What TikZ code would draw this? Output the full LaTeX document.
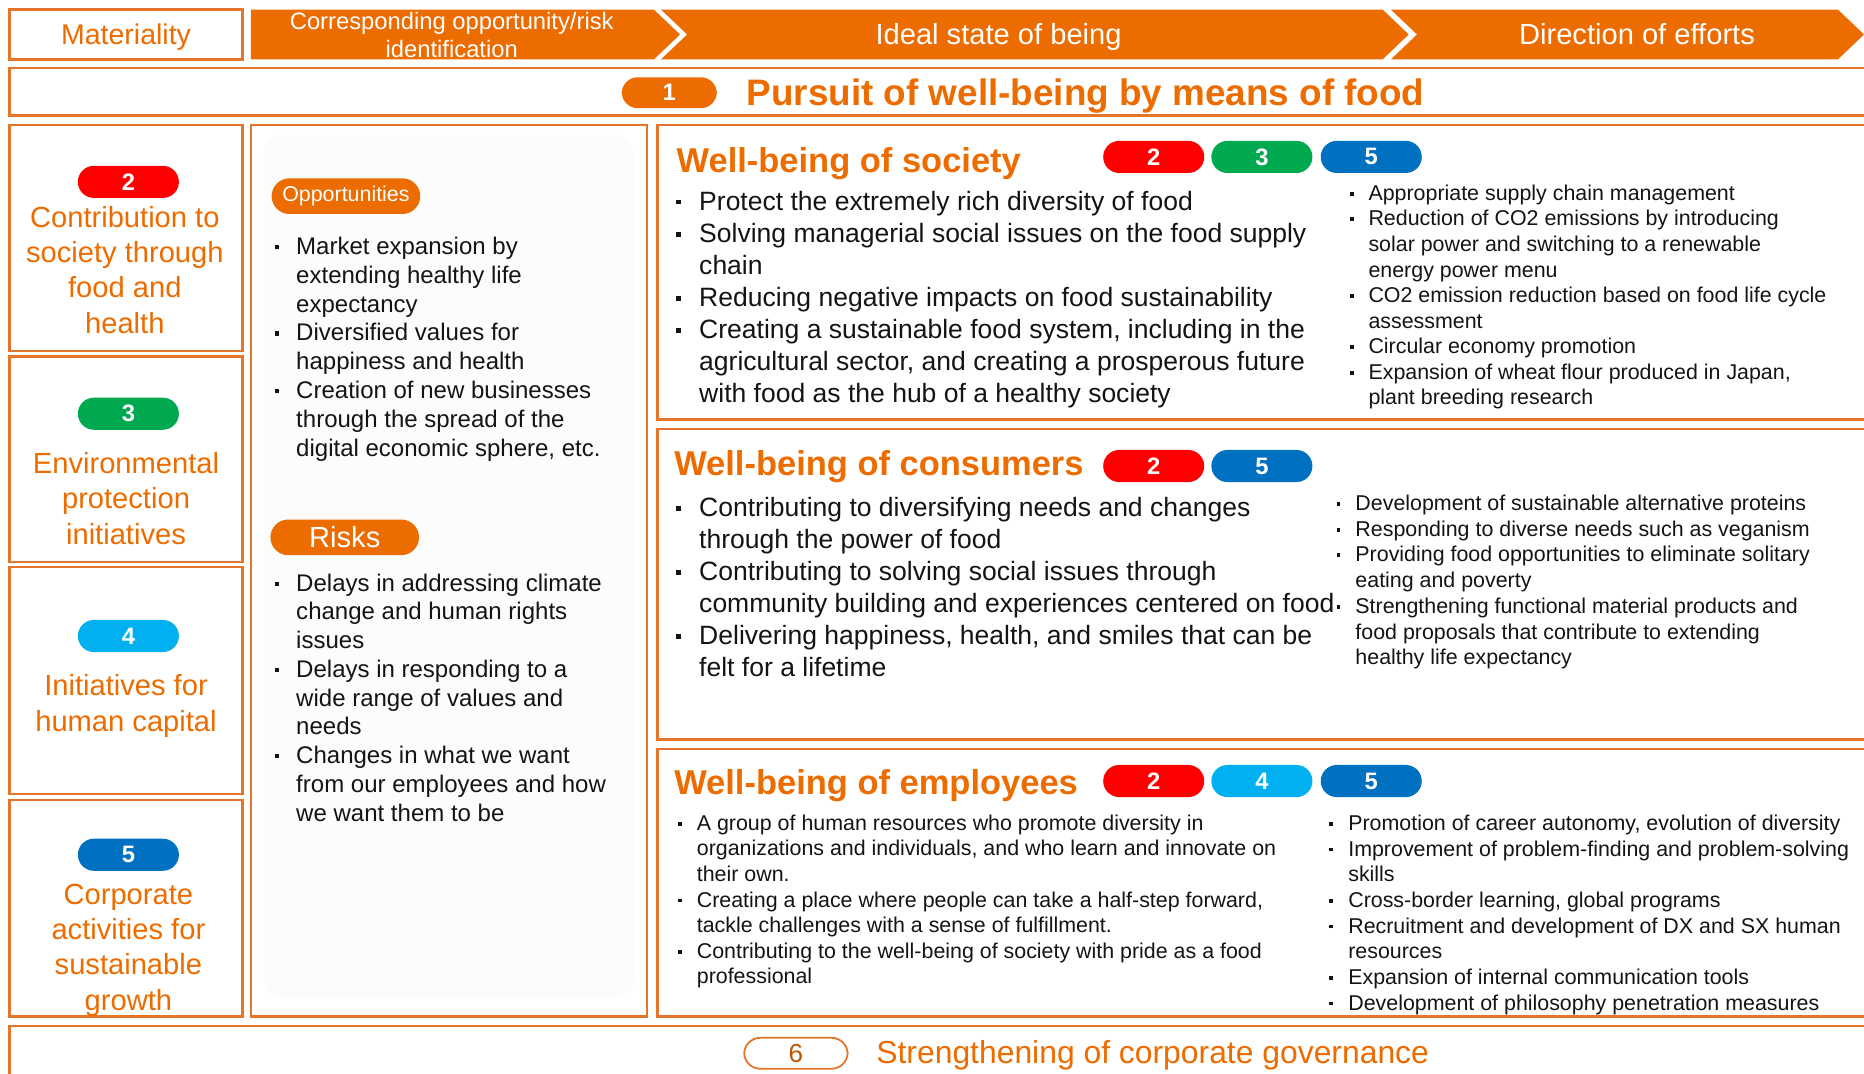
\documentclass[tikz,border=0pt]{standalone}
\usepackage{fontspec}
\setmainfont{Liberation Sans}

\definecolor{brand}{RGB}{237,108,0}
\definecolor{frame}{RGB}{229,117,42}
\definecolor{ink}{RGB}{20,20,20}
\definecolor{mred}{RGB}{255,0,0}
\definecolor{mgreen}{RGB}{0,168,80}
\definecolor{mcyan}{RGB}{0,176,240}
\definecolor{mblue}{RGB}{0,112,192}
\definecolor{panel}{RGB}{252,252,252}

% font size / line spacing in picture pixels
\newcommand\fs[2]{\fontsize{#1}{#2}\selectfont}
% small square bullet hanging to the left of the text column
\newcommand\bul{\leavevmode\llap{\raisebox{0.22em}{\rule{0.18em}{0.18em}}\hspace{0.7em}}}

\tikzset{
  frame/.style={draw=frame, line width=2pt},
  pill/.style={rounded corners=13.5pt, minimum width=85pt, minimum height=27pt,
    inner sep=0pt, text=white, font=\bfseries\fs{20}{20}},
  tagpill/.style={fill=brand, rounded corners=15pt, minimum width=125pt,
    minimum height=30pt, inner sep=0pt, text=white},
  hdrtext/.style={text=white, inner sep=0pt, align=center, font=\fs{24.5}{24.5}},
  mattext/.style={text=brand, inner sep=0pt, align=center, anchor=north},
  blk/.style={text=ink, inner sep=0pt, align=left, anchor=north west},
  wbtitle/.style={text=brand, inner sep=0pt, anchor=base west, font=\bfseries\fs{29}{29}}
}

\begin{document}
\begin{tikzpicture}[x=1pt,y=-1pt]
\useasboundingbox (0,0) rectangle (1568,903);
\fill[white] (0,0) rectangle (1568,903);
\clip (0,0) rectangle (1568,903);

% ---------- header row ----------
\draw[frame] (8,8) rectangle (204,50);
\node[text=brand, inner sep=0pt, anchor=base, font=\fs{24}{24}] (mat) at (106,37.5) {Materiality};

\fill[brand] (211,8) -- (550,8) -- (572,29) -- (550,50) -- (211,50) -- cycle;
\fill[brand] (556,8) -- (1163,8) -- (1185,29) -- (1163,50) -- (556,50) -- (578,29) -- cycle;
\fill[brand] (1170,8) -- (1546,8) -- (1568,29) -- (1546,50) -- (1170,50) -- (1192,29) -- cycle;

\node[hdrtext, anchor=north, font=\fs{20}{23}] (hopp) at (380,10.4)
  {Corresponding opportunity/risk\\identification};
\node[hdrtext, anchor=base] (hideal) at (840,37.5) {Ideal state of being};
\node[hdrtext, anchor=base] (hdir) at (1377,37.5) {Direction of efforts};

% ---------- materiality 1 ----------
\draw[frame] (8,57) rectangle (1580,97);
\node[pill, fill=brand, minimum width=80pt, minimum height=26pt] (p1) at (563,78) {1};
\node[text=brand, inner sep=0pt, anchor=base west, font=\bfseries\fs{31}{31}] (t1)
  at (628,88.5) {Pursuit of well-being by means of food};

% ---------- left column: materialities 2-5 ----------
\draw[frame] (8,105) rectangle (204,295);
\draw[frame] (8,300) rectangle (204,473);
\draw[frame] (8,477) rectangle (204,668);
\draw[frame] (8,673) rectangle (204,855);

\node[pill, fill=mred] (m2) at (108,153) {2};
\node[mattext, font=\fs{24.5}{29.6}] (t2) at (105,173.5)
  {Contribution to\\society through\\food and\\health};

\node[pill, fill=mgreen] (m3) at (108,348) {3};
\node[mattext, font=\fs{24.5}{29.6}] (t3) at (106,380.5)
  {Environmental\\protection\\initiatives};

\node[pill, fill=mcyan] (m4) at (108,535) {4};
\node[mattext, font=\fs{24.5}{29.6}] (t4) at (106,567.5)
  {Initiatives for\\human capital};

\node[pill, fill=mblue] (m5) at (108,719) {5};
\node[mattext, font=\fs{24.5}{29.6}] (t5) at (108,743.5)
  {Corporate\\activities for\\sustainable\\growth};

% ---------- opportunities and risks ----------
\draw[frame] (211,105) rectangle (544,855);
\fill[panel, rounded corners=15pt] (222,114) rectangle (533,839);

\node[tagpill, font=\fs{18}{18}] (opp) at (291,165) {Opportunities};
\node[blk, font=\fs{20.2}{24.2}] (opptext) at (249,199.4)
  {\bul Market expansion by\\
   extending healthy life\\
   expectancy\\
   \bul Diversified values for\\
   happiness and health\\
   \bul Creation of new businesses\\
   through the spread of the\\
   digital economic sphere, etc.};

\node[tagpill, font=\fs{24.5}{24.5}] (risk) at (290,452) {Risks};
\node[blk, font=\fs{20.2}{24.2}] (risktext) at (249,482.4)
  {\bul Delays in addressing climate\\
   change and human rights\\
   issues\\
   \bul Delays in responding to a\\
   wide range of values and\\
   needs\\
   \bul Changes in what we want\\
   from our employees and how\\
   we want them to be};

% ---------- well-being of society ----------
\draw[frame] (553,105) rectangle (1580,353);
\node[wbtitle] (soc) at (569,145) {Well-being of society};
\node[pill, fill=mred] (s2) at (970.5,132) {2};
\node[pill, fill=mgreen] (s3) at (1061.5,132) {3};
\node[pill, fill=mblue] (s5) at (1153.5,132) {5};
\node[blk, font=\fs{22.3}{27}] (socl) at (588,160.5)
  {\bul Protect the extremely rich diversity of food\\
   \bul Solving managerial social issues on the food supply\\
   chain\\
   \bul Reducing negative impacts on food sustainability\\
   \bul Creating a sustainable food system, including in the\\
   agricultural sector, and creating a prosperous future\\
   with food as the hub of a healthy society};
\node[blk, font=\fs{18}{21.5}] (socr) at (1151,155.3)
  {\bul Appropriate supply chain management\\
   \bul Reduction of CO2 emissions by introducing\\
   solar power and switching to a renewable\\
   energy power menu\\
   \bul CO2 emission reduction based on food life cycle\\
   assessment\\
   \bul Circular economy promotion\\
   \bul Expansion of wheat flour produced in Japan,\\
   plant breeding research};

% ---------- well-being of consumers ----------
\draw[frame] (553,361) rectangle (1580,622);
\node[wbtitle] (con) at (567,400) {Well-being of consumers};
\node[pill, fill=mred] (c2) at (970.5,392) {2};
\node[pill, fill=mblue] (c5) at (1061.5,392) {5};
\node[blk, font=\fs{22.3}{26.8}] (conl) at (588,418.5)
  {\bul Contributing to diversifying needs and changes\\
   through the power of food\\
   \bul Contributing to solving social issues through\\
   community building and experiences centered on food\\
   \bul Delivering happiness, health, and smiles that can be\\
   felt for a lifetime};
\node[blk, font=\fs{18}{21.6}] (conr) at (1140,416.3)
  {\bul Development of sustainable alternative proteins\\
   \bul Responding to diverse needs such as veganism\\
   \bul Providing food opportunities to eliminate solitary\\
   eating and poverty\\
   \bul Strengthening functional material products and\\
   food proposals that contribute to extending\\
   healthy life expectancy};

% ---------- well-being of employees ----------
\draw[frame] (553,630) rectangle (1580,855);
\node[wbtitle] (emp) at (567,668) {Well-being of employees};
\node[pill, fill=mred] (e2) at (970.5,657) {2};
\node[pill, fill=mcyan] (e4) at (1061.5,657) {4};
\node[pill, fill=mblue] (e5) at (1153.5,657) {5};
\node[blk, font=\fs{18}{21.5}] (empl) at (586,685.3)
  {\bul A group of human resources who promote diversity in\\
   organizations and individuals, and who learn and innovate on\\
   their own.\\
   \bul Creating a place where people can take a half-step forward,\\
   tackle challenges with a sense of fulfillment.\\
   \bul Contributing to the well-being of society with pride as a food\\
   professional};
\node[blk, font=\fs{18}{21.6}] (empr) at (1134,685.3)
  {\bul Promotion of career autonomy, evolution of diversity\\
   \bul Improvement of problem-finding and problem-solving\\
   skills\\
   \bul Cross-border learning, global programs\\
   \bul Recruitment and development of DX and SX human\\
   resources\\
   \bul Expansion of internal communication tools\\
   \bul Development of philosophy penetration measures};

% ---------- materiality 6 ----------
\draw[frame] (8,863) rectangle (1580,930);
\node[pill, fill=white, draw=frame, line width=1.5pt, text=brand!80!black, font=\fs{22}{22},
  minimum width=87pt, minimum height=26pt] (p6) at (669.5,886) {6};
\node[text=brand, inner sep=0pt, anchor=base west, font=\fs{26.8}{26.8}] (t6)
  at (737,895) {Strengthening of corporate governance};
\end{tikzpicture}
\end{document}
